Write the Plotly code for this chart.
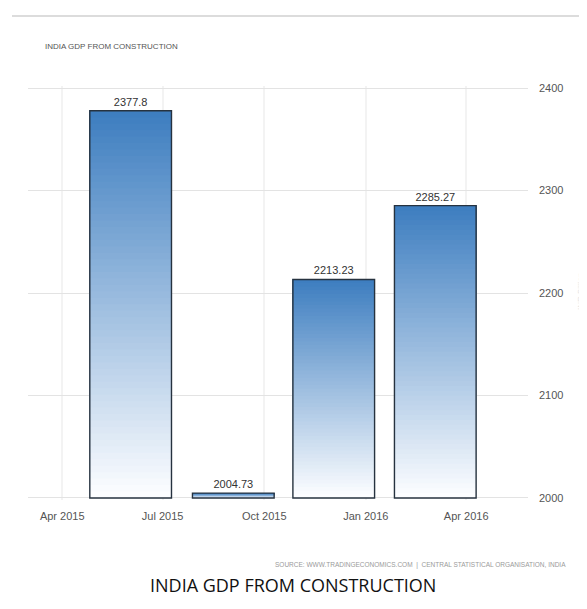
import plotly.graph_objects as go

# ---- data ----
quarter_dates = ["2015-06-02", "2015-09-03", "2015-12-03", "2016-03-04"]
gdp_values = [2377.8, 2004.73, 2213.23, 2285.27]
value_labels = ["2377.8", "2004.73", "2213.23", "2285.27"]
x_tick_dates = ["2015-04-01", "2015-07-01", "2015-10-01", "2016-01-01", "2016-04-01"]
x_tick_labels = ["Apr 2015", "Jul 2015", "Oct 2015", "Jan 2016", "Apr 2016"]
y_tick_vals = [2000, 2100, 2200, 2300, 2400]
y_tick_labels = ["2000", "2100", "2200", "2300", "2400"]

Y_MIN, Y_MAX = 2000, 2400
PAD = 2  # small axis padding so the edge gridlines show
DAY_MS = 86400000
BAR_WIDTH = 74 * DAY_MS
NARROW = "Liberation Sans Narrow, Arial Narrow, Liberation Sans, Arial, sans-serif"

# page body has an 8px margin: figure drawn at (8,8)
OFF = 8
W, H = 587 - OFF, 609 - OFF
SCALE = (498 - 88) / (Y_MAX - Y_MIN)
TOP_PX = 88 - PAD * SCALE
BOT_PX = 498 + PAD * SCALE
PL, PR = 28 - OFF, W - (528 - OFF)
PT, PB = round(TOP_PX - OFF), round(H - (BOT_PX - OFF))
PW, PH = W - PL - PR, H - PT - PB


def px_x(xp):
    return (xp - OFF - PL) / PW


def px_y(yp):
    return 1 - (yp - OFF - PT) / PH


# gradient colours (bottom -> top)
TOP_RGB = (62, 126, 192)
BOT_RGB = (252, 253, 255)
N = 60

gx, gbase, gy, gcol = [], [], [], []
for k in range(N):
    t = k / (N - 1)
    r = round(BOT_RGB[0] + (TOP_RGB[0] - BOT_RGB[0]) * t)
    g = round(BOT_RGB[1] + (TOP_RGB[1] - BOT_RGB[1]) * t)
    b = round(BOT_RGB[2] + (TOP_RGB[2] - BOT_RGB[2]) * t)
    for d, v in zip(quarter_dates, gdp_values):
        h = v - Y_MIN
        base = Y_MIN + h * k / N
        gx.append(d)
        gbase.append(base)
        gy.append(v - base)
        gcol.append(f"rgb({r},{g},{b})")

fig = go.Figure()

fig.add_trace(go.Bar(
    x=gx, y=gy, base=gbase, width=[BAR_WIDTH] * len(gx),
    marker=dict(color=gcol, line=dict(width=0)),
    hoverinfo="skip", showlegend=False,
))

fig.add_trace(go.Bar(
    x=quarter_dates,
    y=[v - Y_MIN for v in gdp_values],
    base=[Y_MIN] * len(gdp_values),
    width=[BAR_WIDTH] * len(gdp_values),
    marker=dict(color="rgba(0,0,0,0)", line=dict(color="#26323f", width=1.4)),
    text=value_labels, textposition="outside", cliponaxis=False,
    textfont=dict(family=NARROW, size=11, color="#333333"),
    hoverinfo="skip", showlegend=False,
))

fig.update_layout(
    width=W, height=H,
    barmode="overlay",
    plot_bgcolor="white", paper_bgcolor="white",
    margin=dict(l=PL, r=PR, t=PT, b=PB),
    title=dict(
        text="INDIA GDP FROM CONSTRUCTION",
        font=dict(family=NARROW, size=8, color="#555555"),
        x=(45 - OFF) / W, xanchor="left", xref="container",
        y=1 - (46 - OFF) / H, yanchor="middle", yref="container",
    ),
    xaxis=dict(
        type="date",
        range=["2015-03-01", "2016-05-27"],
        tickvals=x_tick_dates, ticktext=x_tick_labels,
        tickfont=dict(family=NARROW, size=11, color="#555555"),
        showgrid=True, gridcolor="#f3f3f3", gridwidth=2,
        zeroline=False, showline=False, ticks="",
        ticklabelstandoff=8,
    ),
    yaxis=dict(
        side="right",
        range=[Y_MIN - PAD, Y_MAX + PAD],
        tickvals=y_tick_vals, ticktext=y_tick_labels,
        tickfont=dict(family=NARROW, size=11, color="#555555"),
        showgrid=True, gridcolor="#e3e3e3", gridwidth=1,
        zeroline=False, showline=False, ticks="",
        ticklabelstandoff=10,
    ),
    shapes=[dict(
        type="line", xref="paper", yref="paper",
        x0=px_x(12), x1=px_x(600), y0=px_y(16), y1=px_y(16),
        line=dict(color="#dcdcdc", width=2),
    )],
    annotations=[
        dict(
            text="SOURCE: WWW.TRADINGECONOMICS.COM  |  CENTRAL STATISTICAL ORGANISATION, INDIA",
            xref="paper", yref="paper", x=px_x(568), y=px_y(565),
            xanchor="right", yanchor="middle", showarrow=False,
            font=dict(family=NARROW, size=6.5, color="#9a9a9a"),
        ),
        dict(
            text="INDIA GDP FROM CONSTRUCTION",
            xref="paper", yref="paper", x=px_x(293), y=px_y(585),
            xanchor="center", yanchor="middle", showarrow=False,
            font=dict(family="Open Sans, Noto Sans, sans-serif", size=18, color="#111111"),
        ),
        dict(
            text="INR Billion",
            xref="paper", yref="paper", x=px_x(580), y=px_y(292),
            xanchor="center", yanchor="middle", showarrow=False, textangle=-90,
            font=dict(family=NARROW, size=8, color="#e4e4e4"),
        ),
    ],
)

fig.write_html("out.html")
